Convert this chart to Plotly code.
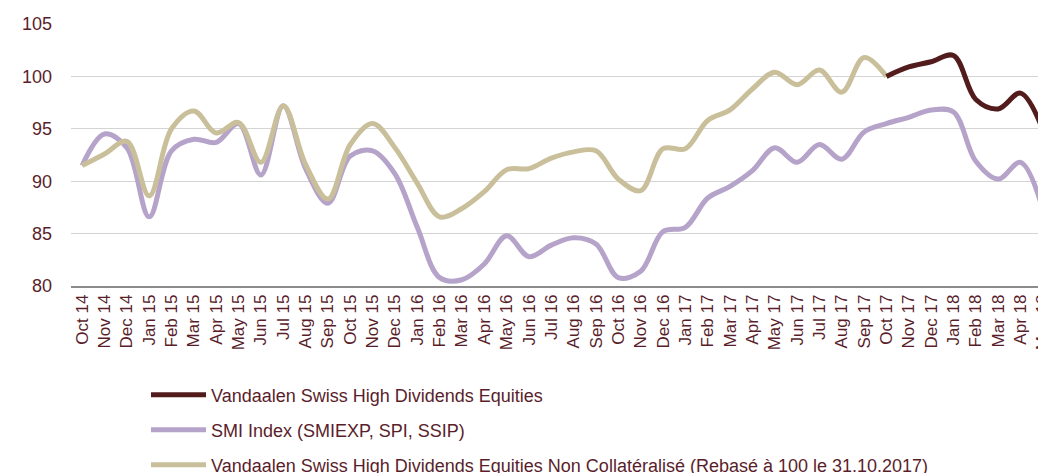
import plotly.graph_objects as go

months = ["Oct 14", "Nov 14", "Dec 14", "Jan 15", "Feb 15", "Mar 15", "Apr 15", "May 15",
          "Jun 15", "Jul 15", "Aug 15", "Sep 15", "Oct 15", "Nov 15", "Dec 15", "Jan 16",
          "Feb 16", "Mar 16", "Apr 16", "May 16", "Jun 16", "Jul 16", "Aug 16", "Sep 16",
          "Oct 16", "Nov 16", "Dec 16", "Jan 17", "Feb 17", "Mar 17", "Apr 17", "May 17",
          "Jun 17", "Jul 17", "Aug 17", "Sep 17", "Oct 17", "Nov 17", "Dec 17", "Jan 18",
          "Feb 18", "Mar 18", "Apr 18", "May 18"]

smi = [91.5, 94.5, 93.2, 86.6, 92.9, 94.0, 93.7, 95.5, 90.6, 97.2, 91.2, 87.9,
       92.4, 92.9, 90.7, 85.6, 80.8, 80.6, 82.1, 84.8, 82.8, 83.9, 84.6, 84.0,
       80.8, 81.4, 85.2, 85.6, 88.4, 89.5, 91.0, 93.2, 91.8, 93.5, 92.1, 94.7,
       95.5, 96.1, 96.8, 96.6, 91.9, 90.2, 91.8, 87.3]

non_collat = [91.5, 92.6, 93.8, 88.6, 95.0, 96.7, 94.6, 95.6, 91.8, 97.2, 91.6, 88.3,
              93.5, 95.5, 93.2, 89.8, 86.6, 87.4, 89.0, 91.1, 91.2, 92.2, 92.8, 92.9,
              90.2, 89.1, 93.1, 93.1, 95.8, 96.8, 98.8, 100.4, 99.2, 100.6, 98.5, 101.8,
              100.0, None, None, None, None, None, None, None]

vandaalen = [None] * 36 + [100.0, 100.9, 101.4, 102.0, 97.8, 96.9, 98.4, 94.9]

y_ticks = [80, 85, 90, 95, 100, 105]

TEXT = "#5a1e2b"
FONT = "Liberation Sans, Arial, sans-serif"

fig = go.Figure()
fig.add_trace(go.Scatter(x=months, y=smi, mode="lines", name="SMI Index (SMIEXP, SPI, SSIP)",
                         line=dict(color="#b5a3c9", width=5, shape="spline", smoothing=1),
                         legendrank=2, legendgroup="b"))
fig.add_trace(go.Scatter(x=months, y=non_collat, mode="lines",
                         name="Vandaalen Swiss High Dividends Equities Non Collatéralisé (Rebasé à 100 le 31.10.2017)",
                         line=dict(color="#c9c09b", width=5, shape="spline", smoothing=1),
                         legendrank=3, legendgroup="c"))
fig.add_trace(go.Scatter(x=months, y=vandaalen, mode="lines", name="Vandaalen Swiss High Dividends Equities",
                         line=dict(color="#521c1c", width=5, shape="spline", smoothing=1),
                         legendrank=1, legendgroup="a"))

fig.update_layout(
    width=1046, height=473,
    margin=dict(l=63, r=0, t=16, b=195, autoexpand=False),
    paper_bgcolor="white", plot_bgcolor="white",
    font=dict(family=FONT, size=18, color=TEXT),
    showlegend=True,
    legend=dict(orientation="v", x=0.0763, xanchor="left", y=-0.346, yanchor="top",
                font=dict(family=FONT, size=18, color=TEXT),
                tracegroupgap=8.5, itemwidth=55, bgcolor="rgba(0,0,0,0)"),
    xaxis=dict(type="category", range=[-0.5, 43.5], tickangle=-90, automargin=False,
               showgrid=False, showline=True, linecolor="#8c8c8c", linewidth=1.5,
               ticks="", tickfont=dict(family=FONT, size=17, color=TEXT)),
    yaxis=dict(range=[80, 105], tickvals=y_ticks, showgrid=True, gridcolor="#d4d4d4",
               gridwidth=1, zeroline=False, showline=False, ticks="", automargin=False,
               ticklabelstandoff=18, tickfont=dict(family=FONT, size=18, color=TEXT)),
)

fig.write_html("out.html")
